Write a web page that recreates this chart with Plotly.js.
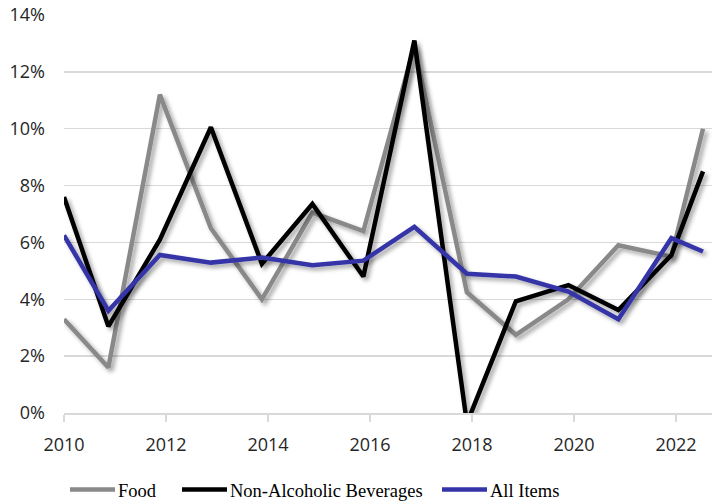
<!DOCTYPE html>
<html>
<head>
<meta charset="utf-8">
<script src="https://cdn.plot.ly/plotly-3.0.1.min.js"></script>
<style>
  html, body { margin: 0; padding: 0; background: #fff; }
  #chart { width: 712px; height: 504px; }
</style>
</head>
<body>
<svg width="0" height="0" style="position:absolute">
  <defs>
    <filter id="lineShadow" x="-20%" y="-20%" width="140%" height="140%">
      <feDropShadow dx="3" dy="3" stdDeviation="2" flood-color="#000" flood-opacity="0.35"/>
    </filter>
  </defs>
</svg>
<div id="chart"></div>
<script>
// Data (percent change)
const years = [2010.0, 2010.87, 2011.88, 2012.88, 2013.88, 2014.87, 2015.87, 2016.87, 2017.9, 2018.86, 2019.89, 2020.87, 2021.91, 2022.53];
const food = [3.3, 1.6, 11.2, 6.5, 4.0, 7.05, 6.4, 12.9, 4.25, 2.75, 4.0, 5.9, 5.5, 10.0];
const nonAlcoholic = [7.6, 3.05, 6.1, 10.05, 5.25, 7.35, 4.8, 13.1, -0.36, 3.93, 4.5, 3.62, 5.56, 8.5];
const allItems = [6.25, 3.6, 5.56, 5.29, 5.47, 5.2, 5.36, 6.55, 4.9, 4.8, 4.27, 3.3, 6.15, 5.68];
const seriesNames = ['Food', 'Non-Alcoholic Beverages', 'All Items'];
const xTicks = [2010, 2012, 2014, 2016, 2018, 2020, 2022];
const yTicks = [0, 2, 4, 6, 8, 10, 12, 14];

const colors = ['#898989', '#000000', '#3434a8'];
const seriesData = [food, nonAlcoholic, allItems];

const traces = seriesData.map((vals, i) => ({
  x: years,
  y: vals,
  name: seriesNames[i],
  type: 'scatter',
  mode: 'lines',
  line: { color: colors[i], width: 4.5, shape: 'linear' },
  hoverinfo: 'skip'
}));

const layout = {
  width: 712,
  height: 504,
  margin: { l: 64, r: 0, t: 15, b: 91, pad: 0, autoexpand: false },
  paper_bgcolor: '#ffffff',
  plot_bgcolor: '#ffffff',
  showlegend: true,
  xaxis: {
    range: [2010, 2022.706],
    tickvals: xTicks,
    ticktext: xTicks.map(String),
    showgrid: false,
    zeroline: false,
    showline: true,
    linecolor: '#d9d9d9',
    linewidth: 1.5,
    ticks: 'outside',
    ticklen: 7,
    tickwidth: 1.5,
    tickcolor: '#d9d9d9',
    ticklabelstandoff: 8,
    tickfont: { family: 'Open Sans', size: 18, color: '#262626' },
    fixedrange: true
  },
  yaxis: {
    range: [0, 14],
    tickvals: yTicks,
    ticktext: yTicks.map(v => v + '%'),
    showgrid: true,
    gridcolor: '#d9d9d9',
    gridwidth: 1.5,
    zeroline: false,
    showline: false,
    ticks: '',
    ticklabelstandoff: 18,
    tickfont: { family: 'Open Sans', size: 18, color: '#262626' },
    fixedrange: true
  },
  legend: {
    orientation: 'h',
    x: 0.0,
    xanchor: 'left',
    y: -0.1935,
    yanchor: 'middle',
    font: { family: 'Liberation Serif', size: 18.5, color: '#000000' },
    bgcolor: 'rgba(0,0,0,0)',
    traceorder: 'normal'
  }
};

// legend entry layout (text start positions, swatch length) to mimic the reference
const legendTextStart = [118, 230, 490];
const swatchLen = 45;
const swatchGap = 3;

Plotly.newPlot('chart', traces, layout, { displayModeBar: false, staticPlot: true }).then(() => {
  document.querySelectorAll('#chart .scatterlayer .trace path.js-line').forEach(p => {
    p.setAttribute('filter', 'url(#lineShadow)');
  });
  document.querySelectorAll('#chart .legend, #chart .legend *').forEach(el => {
    if (el.hasAttribute && el.hasAttribute('clip-path')) el.removeAttribute('clip-path');
  });
  const items = document.querySelectorAll('#chart .legend g.traces');
  items.forEach((g, i) => {
    const parent = g.parentNode;
    const ox = parent.getScreenCTM().e;
    const tr = g.getAttribute('transform') || '';
    const m = tr.match(/translate\(\s*([-\d.]+)[ ,]+([-\d.]+)\s*\)/);
    const ty = m ? parseFloat(m[2]) : 0;
    const originX = legendTextStart[i] - 40;
    g.setAttribute('transform', 'translate(' + (originX - ox) + ',' + ty + ')');
    const line = g.querySelector('path.js-line');
    if (line) {
      line.setAttribute('d', 'M' + (40 - swatchGap - swatchLen) + ',0h' + swatchLen);
      line.style.strokeWidth = '4.5px';
    }
  });
});
</script>
</body>
</html>
